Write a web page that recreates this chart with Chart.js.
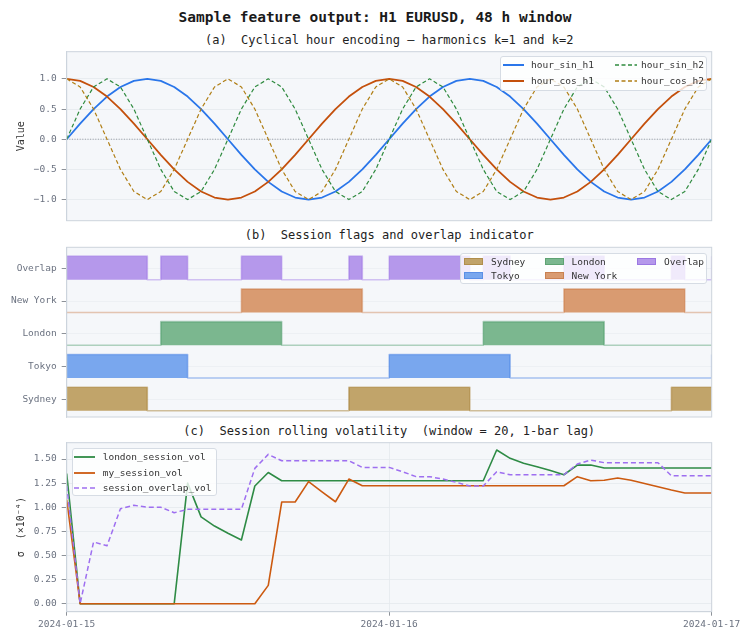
<!DOCTYPE html>
<html>
<head>
<meta charset="utf-8">
<script src="https://cdn.jsdelivr.net/npm/chart.js@4.4.1/dist/chart.umd.min.js"></script>
<style>
html, body { margin: 0; padding: 0; background: #fff; }
body { width: 750px; height: 641px; position: relative; overflow: hidden; font-family: 'DejaVu Sans Mono', monospace; color: #222; }
.ttl { position: absolute; text-align: center; white-space: pre; }
.main { left: 0; width: 750px; top: 8px; font-size: 14.5px; line-height: 18px; font-weight: bold; color: #1a1a1a; }
.sub { left: 66.7px; width: 645px; font-size: 12px; line-height: 16px; color: #222; }
.panel { position: absolute; left: 0; width: 750px; }
.lg { position: absolute; z-index: 5; background: rgba(255,255,255,0.8); border: 1px solid #d6dce4; border-radius: 3px; box-sizing: border-box; }
.lg span { position: absolute; font-size: 9.5px; line-height: 12px; color: #333; white-space: pre; }
.lg svg, .lg i { position: absolute; display: block; }
.lg i { width: 19.4px; height: 6.7px; box-sizing: border-box; border: 1px solid; }
</style>
</head>
<body>
<div class="ttl main">Sample feature output: H1 EURUSD, 48 h window</div>
<div class="ttl sub" style="top:31.5px">(a)  Cyclical hour encoding — harmonics k=1 and k=2</div>
<div class="ttl sub" style="top:227.3px">(b)  Session flags and overlap indicator</div>
<div class="ttl sub" style="top:423px">(c)  Session rolling volatility  (window = 20, 1-bar lag)</div>

<div class="panel" style="top:45px;height:180px"><canvas id="chartA"></canvas></div>
<div class="panel" style="top:242px;height:180px"><canvas id="chartB"></canvas></div>
<div class="panel" style="top:438px;height:203px"><canvas id="chartC"></canvas></div>

<div class="lg" style="left:500px;top:56px;width:207px;height:35px">
  <svg style="left:2px;top:5px" width="21" height="6"><line x1="0" y1="3" x2="21" y2="3" stroke="#2a76ea" stroke-width="2"/></svg>
  <span style="left:30px;top:2px">hour_sin_h1</span>
  <svg style="left:2px;top:21.3px" width="21" height="6"><line x1="0" y1="3" x2="21" y2="3" stroke="#c4500c" stroke-width="2"/></svg>
  <span style="left:30px;top:18.3px">hour_cos_h1</span>
  <svg style="left:114px;top:5px" width="22" height="6"><line x1="0" y1="3" x2="22" y2="3" stroke="#2e8a3e" stroke-width="1.3" stroke-dasharray="4 2.5"/></svg>
  <span style="left:140px;top:2px">hour_sin_h2</span>
  <svg style="left:114px;top:21.3px" width="22" height="6"><line x1="0" y1="3" x2="22" y2="3" stroke="#b07e14" stroke-width="1.3" stroke-dasharray="4 2.5"/></svg>
  <span style="left:140px;top:18.3px">hour_cos_h2</span>
</div>

<div class="lg" style="left:460px;top:252.7px;width:247px;height:31.3px">
  <i style="left:3px;top:4.6px;background:#c1a46a;border-color:#b08e4c"></i>
  <span style="left:30px;top:2px">Sydney</span>
  <i style="left:3px;top:18.6px;background:#79a7ee;border-color:#5b8fe6"></i>
  <span style="left:30px;top:16px">Tokyo</span>
  <i style="left:84px;top:4.6px;background:#7bb78f;border-color:#5fa373"></i>
  <span style="left:110.5px;top:2px">London</span>
  <i style="left:84px;top:18.6px;background:#d99b71;border-color:#c98152"></i>
  <span style="left:110.5px;top:16px">New York</span>
  <i style="left:175.5px;top:4.6px;background:#b598eb;border-color:#9c78e2"></i>
  <span style="left:203px;top:2px">Overlap</span>
</div>

<div class="lg" style="left:71.7px;top:448.3px;width:145px;height:48px">
  <svg style="left:1.6px;top:4.7px" width="21" height="6"><line x1="0" y1="3" x2="21" y2="3" stroke="#2e8b45" stroke-width="1.8"/></svg>
  <span style="left:30px;top:1.7px">london_session_vol</span>
  <svg style="left:1.6px;top:20.4px" width="21" height="6"><line x1="0" y1="3" x2="21" y2="3" stroke="#cc5a10" stroke-width="1.8"/></svg>
  <span style="left:30px;top:17.4px">my_session_vol</span>
  <svg style="left:1.6px;top:36px" width="21" height="6"><line x1="0" y1="3" x2="21" y2="3" stroke="#9e6ff0" stroke-width="1.6" stroke-dasharray="5 3"/></svg>
  <span style="left:30px;top:33px">session_overlap_vol</span>
</div>

<script>
// hour offsets from 2024-01-15 00:00 UTC
var HOURS = [0, 1, 2, 3, 4, 5, 6, 7, 8, 9, 10, 11, 12, 13, 14, 15, 16, 17, 18, 19, 20, 21, 22, 23,
             24, 25, 26, 27, 28, 29, 30, 31, 32, 33, 34, 35, 36, 37, 38, 39, 40, 41, 42, 43, 44, 45, 46, 47, 48];
var DATE_TICK_HOURS = [0, 24, 48];
var DATE_TICKS = ['2024-01-15', '2024-01-16', '2024-01-17'];

// (a) cyclical hour encoding
var SIN_H1 = [0, 0.259, 0.5, 0.707, 0.866, 0.966, 1, 0.966, 0.866, 0.707, 0.5, 0.259,
              0, -0.259, -0.5, -0.707, -0.866, -0.966, -1, -0.966, -0.866, -0.707, -0.5, -0.259,
              0, 0.259, 0.5, 0.707, 0.866, 0.966, 1, 0.966, 0.866, 0.707, 0.5, 0.259,
              0, -0.259, -0.5, -0.707, -0.866, -0.966, -1, -0.966, -0.866, -0.707, -0.5, -0.259, 0];
var COS_H1 = [1, 0.966, 0.866, 0.707, 0.5, 0.259, 0, -0.259, -0.5, -0.707, -0.866, -0.966,
              -1, -0.966, -0.866, -0.707, -0.5, -0.259, 0, 0.259, 0.5, 0.707, 0.866, 0.966,
              1, 0.966, 0.866, 0.707, 0.5, 0.259, 0, -0.259, -0.5, -0.707, -0.866, -0.966,
              -1, -0.966, -0.866, -0.707, -0.5, -0.259, 0, 0.259, 0.5, 0.707, 0.866, 0.966, 1];
var SIN_H2 = [0, 0.5, 0.866, 1, 0.866, 0.5, 0, -0.5, -0.866, -1, -0.866, -0.5,
              0, 0.5, 0.866, 1, 0.866, 0.5, 0, -0.5, -0.866, -1, -0.866, -0.5,
              0, 0.5, 0.866, 1, 0.866, 0.5, 0, -0.5, -0.866, -1, -0.866, -0.5,
              0, 0.5, 0.866, 1, 0.866, 0.5, 0, -0.5, -0.866, -1, -0.866, -0.5, 0];
var COS_H2 = [1, 0.866, 0.5, 0, -0.5, -0.866, -1, -0.866, -0.5, 0, 0.5, 0.866,
              1, 0.866, 0.5, 0, -0.5, -0.866, -1, -0.866, -0.5, 0, 0.5, 0.866,
              1, 0.866, 0.5, 0, -0.5, -0.866, -1, -0.866, -0.5, 0, 0.5, 0.866,
              1, 0.866, 0.5, 0, -0.5, -0.866, -1, -0.866, -0.5, 0, 0.5, 0.866, 1];
var VALUE_TICKS = [-1, -0.5, 0, 0.5, 1];

// (b) session flags, bottom row first
var SESSION_NAMES = ['Sydney', 'Tokyo', 'London', 'New York', 'Overlap'];
var SYDNEY   = [1,1,1,1,1,1,0,0,0,0,0,0,0,0,0,0,0,0,0,0,0,1,1,1,1,1,1,1,1,1,0,0,0,0,0,0,0,0,0,0,0,0,0,0,0,1,1,1,1];
var TOKYO    = [1,1,1,1,1,1,1,1,1,0,0,0,0,0,0,0,0,0,0,0,0,0,0,0,1,1,1,1,1,1,1,1,1,0,0,0,0,0,0,0,0,0,0,0,0,0,0,0,1];
var LONDON   = [0,0,0,0,0,0,0,1,1,1,1,1,1,1,1,1,0,0,0,0,0,0,0,0,0,0,0,0,0,0,0,1,1,1,1,1,1,1,1,1,0,0,0,0,0,0,0,0,0];
var NEW_YORK = [0,0,0,0,0,0,0,0,0,0,0,0,0,1,1,1,1,1,1,1,1,1,0,0,0,0,0,0,0,0,0,0,0,0,0,0,0,1,1,1,1,1,1,1,1,1,0,0,0];
var OVERLAP  = [1,1,1,1,1,1,0,1,1,0,0,0,0,1,1,1,0,0,0,0,0,1,0,0,1,1,1,1,1,1,0,1,1,0,0,0,0,1,1,1,0,0,0,0,0,1,0,0,1];

// (c) rolling volatility, x1e-4
var LONDON_VOL  = [1.35, 0, 0, 0, 0, 0, 0, 0, 0, 1.25, 0.90, 0.805, 0.73, 0.66, 1.22, 1.36,
                   1.275, 1.275, 1.275, 1.275, 1.275, 1.275, 1.275, 1.275, 1.275, 1.275, 1.275, 1.275, 1.275, 1.275, 1.275, 1.275,
                   1.593, 1.507, 1.455, 1.42, 1.38, 1.337, 1.437, 1.437,
                   1.406, 1.406, 1.406, 1.406, 1.406, 1.406, 1.406, 1.406, 1.406];
var MY_VOL      = [1.08, 0, 0, 0, 0, 0, 0, 0, 0, 0, 0, 0, 0, 0, 0, 0.19,
                   1.054, 1.054, 1.265, 1.16, 1.057, 1.292,
                   1.223, 1.223, 1.223, 1.223, 1.223, 1.223, 1.223, 1.223, 1.223, 1.223, 1.223, 1.223, 1.223, 1.223, 1.223, 1.223,
                   1.317, 1.275, 1.28, 1.303, 1.28, 1.247, 1.213, 1.178, 1.147, 1.147, 1.147];
var OVERLAP_VOL = [1.22, 0, 0.64, 0.60, 0.985, 1.02, 1.0, 1.0, 0.943, 0.978, 0.978, 0.978, 0.978, 0.978, 1.403, 1.548,
                   1.482, 1.482, 1.482, 1.482, 1.482, 1.482, 1.413, 1.413, 1.413, 1.368, 1.317, 1.317, 1.292, 1.258, 1.22, 1.22,
                   1.368, 1.337, 1.337, 1.337, 1.337, 1.337, 1.448, 1.489,
                   1.462, 1.462, 1.462, 1.462, 1.462, 1.327, 1.327, 1.327, 1.327];
var VOL_TICKS = [0, 0.25, 0.5, 0.75, 1, 1.25, 1.5];

Chart.defaults.font.family = "'DejaVu Sans Mono', monospace";
Chart.defaults.font.size = 9.5;
Chart.defaults.color = '#6b7280';
Chart.defaults.animation = false;

var GRID = '#e4e8ee';
var FRAME = '#cdd4dd';
var TICK_MARK = '#70767f';
var AXIS_W = 66.7;

function pts(arr) {
    return arr.map(function(v, i) { return { x: HOURS[i], y: v }; });
}

function minus(s) { return s.replace('-', '\u2212'); }

// plot background + four-sided frame
var panelFrame = {
    id: 'panelFrame',
    beforeDraw: function(chart) {
        var a = chart.chartArea, ctx = chart.ctx;
        ctx.save();
        ctx.fillStyle = '#f5f7fa';
        ctx.fillRect(a.left, a.top, a.right - a.left, a.bottom - a.top);
        ctx.restore();
    },
    afterDraw: function(chart) {
        var a = chart.chartArea, ctx = chart.ctx;
        ctx.save();
        ctx.strokeStyle = FRAME;
        ctx.lineWidth = 1;
        ctx.strokeRect(a.left, a.top, a.right - a.left, a.bottom - a.top);
        ctx.restore();
    }
};

// dotted zero line for panel (a)
var zeroLine = {
    id: 'zeroLine',
    beforeDatasetsDraw: function(chart) {
        var a = chart.chartArea, ctx = chart.ctx;
        var y = chart.scales.y.getPixelForValue(0);
        ctx.save();
        ctx.strokeStyle = '#8b9099';
        ctx.lineWidth = 0.9;
        ctx.setLineDash([1, 1.6]);
        ctx.beginPath();
        ctx.moveTo(a.left, y);
        ctx.lineTo(a.right, y);
        ctx.stroke();
        ctx.restore();
    }
};

function yAxis(min, max, ticks, fmt, title, gridColor) {
    return {
        min: min, max: max,
        afterBuildTicks: function(s) { s.ticks = ticks.map(function(v) { return { value: v }; }); },
        afterFit: function(s) { s.width = AXIS_W; s.paddingTop = 0; s.paddingBottom = 0; },
        ticks: { padding: 5, callback: fmt },
        grid: { color: gridColor || GRID, tickColor: TICK_MARK, tickLength: 5, lineWidth: 0.8 },
        border: { color: FRAME },
        title: title
            ? { display: true, text: title, color: '#333', font: { size: 10 }, padding: { top: 15.5, bottom: 0 } }
            : { display: false }
    };
}

function hiddenX() {
    return { type: 'linear', min: 0, max: 48, display: false };
}

function baseOptions(pad) {
    return {
        responsive: true,
        maintainAspectRatio: false,
        layout: { padding: pad },
        plugins: { legend: { display: false }, tooltip: { enabled: false } },
        elements: { point: { radius: 0 }, line: { tension: 0, borderJoinStyle: 'round' } }
    };
}

// ---- (a) ----
var optA = baseOptions({ top: 6.7, bottom: 4.3, left: 0, right: 38.3 });
optA.scales = {
    x: hiddenX(),
    y: yAxis(-1.35, 1.45, VALUE_TICKS, function(v) { return minus(v.toFixed(1)); }, 'Value')
};
new Chart(document.getElementById('chartA'), {
    type: 'line',
    data: {
        datasets: [
            { label: 'hour_cos_h2', data: pts(COS_H2), borderColor: '#b07e14', borderWidth: 1.2, borderDash: [4, 2.5], fill: false },
            { label: 'hour_sin_h2', data: pts(SIN_H2), borderColor: '#2e8a3e', borderWidth: 1.2, borderDash: [4, 2.5], fill: false },
            { label: 'hour_cos_h1', data: pts(COS_H1), borderColor: '#c4500c', borderWidth: 1.8, fill: false },
            { label: 'hour_sin_h1', data: pts(SIN_H1), borderColor: '#2a76ea', borderWidth: 1.8, fill: false }
        ]
    },
    options: optA,
    plugins: [panelFrame, zeroLine]
});

// ---- (b) ----
var SESSION_FLAGS = [SYDNEY, TOKYO, LONDON, NEW_YORK, OVERLAP];
var SESSION_FILL = ['#c1a46a', '#79a7ee', '#7bb78f', '#d99b71', '#b598eb'];
var SESSION_EDGE = ['rgba(160,118,35,0.45)', 'rgba(45,110,225,0.4)', 'rgba(40,135,75,0.35)',
                    'rgba(195,100,40,0.35)', 'rgba(140,90,225,0.35)'];

var sessionSets = SESSION_FLAGS.map(function(flags, i) {
    var base = i - 0.35;
    return {
        label: SESSION_NAMES[i],
        data: pts(flags.map(function(f) { return base + f * 0.72; })),
        stepped: 'before',
        fill: { value: base },
        backgroundColor: SESSION_FILL[i],
        borderColor: SESSION_EDGE[i],
        borderWidth: 1.6
    };
});

var optB = baseOptions({ top: 5.3, bottom: 5, left: 0, right: 38.3 });
var yB = yAxis(-0.54, 4.64, [0, 1, 2, 3, 4], function(v) { return SESSION_NAMES[v]; }, null, 'rgba(228,232,238,0.6)');
yB.z = 1;
optB.scales = { x: hiddenX(), y: yB };
new Chart(document.getElementById('chartB'), {
    type: 'line',
    data: { datasets: sessionSets },
    options: optB,
    plugins: [panelFrame]
});

// ---- (c) ----
var optC = baseOptions({ top: 4.7, bottom: 0, left: 0, right: 38.3 });
optC.scales = {
    x: {
        type: 'linear', min: 0, max: 48,
        afterBuildTicks: function(s) { s.ticks = DATE_TICK_HOURS.map(function(v) { return { value: v }; }); },
        afterFit: function(s) { s.height = 29.3; s.paddingLeft = 0; s.paddingRight = 0; },
        ticks: { padding: 3, maxRotation: 0, autoSkip: false, callback: function(v, i) { return DATE_TICKS[i]; } },
        grid: { color: GRID, tickColor: TICK_MARK, tickLength: 4, lineWidth: 0.8 },
        border: { color: FRAME }
    },
    y: yAxis(-0.083, 1.669, VOL_TICKS, function(v) { return v.toFixed(2); }, 'σ  (×10⁻⁴)')
};
new Chart(document.getElementById('chartC'), {
    type: 'line',
    data: {
        datasets: [
            { label: 'session_overlap_vol', data: pts(OVERLAP_VOL), borderColor: '#9e6ff0', borderWidth: 1.5, borderDash: [5, 3], fill: false },
            { label: 'my_session_vol', data: pts(MY_VOL), borderColor: '#cc5a10', borderWidth: 1.6, fill: false },
            { label: 'london_session_vol', data: pts(LONDON_VOL), borderColor: '#2e8b45', borderWidth: 1.6, fill: false }
        ]
    },
    options: optC,
    plugins: [panelFrame]
});
</script>
</body>
</html>
